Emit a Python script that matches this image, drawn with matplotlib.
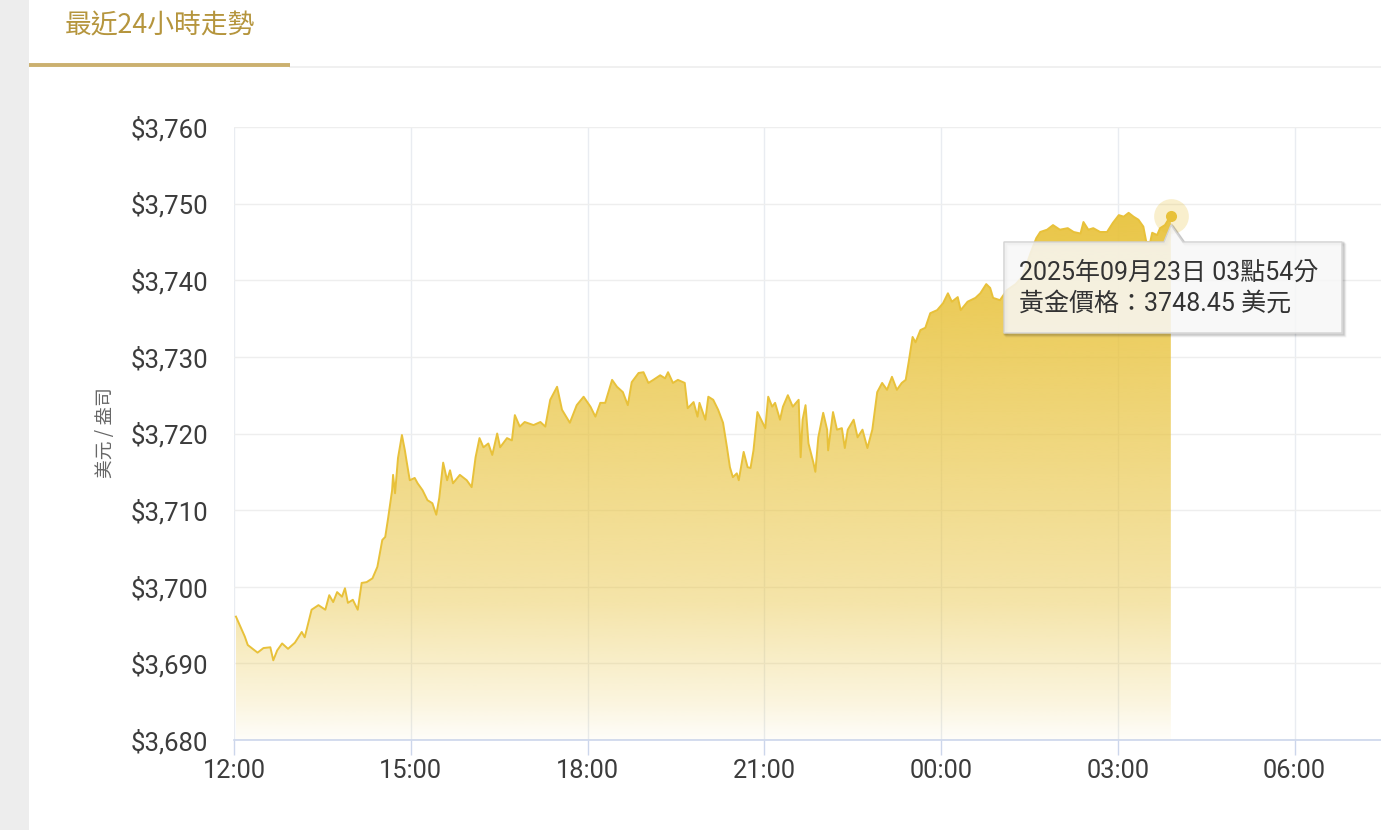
import numpy as np
import matplotlib
matplotlib.use('Agg')
import matplotlib.pyplot as plt
from matplotlib.patches import Polygon, Rectangle
from matplotlib.lines import Line2D

plt.rcParams['font.family'] = ['Roboto', 'Noto Sans CJK TC', 'DejaVu Sans']

W, H = 1381, 830

# gold price, minutes after 12:00 (2025-09-22) -> USD / oz
minutes = [
    2, 11, 14, 24, 30, 37, 40, 44, 49, 55, 62, 69, 72, 79, 86, 93, 97, 101,
    105, 110, 113, 116, 121, 126, 130, 135, 141, 146, 151, 154, 157, 161, 162,
    164, 167, 171, 174, 176, 179, 184, 187, 192, 197, 202, 206, 209, 213, 217,
    220, 223, 230, 237, 242, 246, 250, 254, 259, 263, 268, 271, 278, 283, 286,
    291, 296, 305, 312, 317, 322, 329, 334, 342, 349, 356, 363, 368, 373, 378,
    385, 390, 396, 401, 405, 412, 417, 422, 427, 434, 439, 442, 447, 452, 459,
    462, 468, 472, 474, 480, 483, 488, 493, 498, 502, 505, 508, 512, 514, 519,
    523, 526, 529, 533, 538, 541, 544, 548, 551, 556, 559, 564, 569, 575, 577,
    579, 582, 585, 590, 592, 595, 600, 604, 605, 610, 614, 619, 622, 625, 631,
    635, 640, 645, 650, 655, 660, 665, 670, 675, 680, 684, 687, 691, 694, 699,
    704, 709, 716, 722, 727, 731, 737, 740, 747, 755, 760, 766, 770, 773, 780,
    787, 796, 803, 811, 817, 821, 828, 834, 841, 849, 855, 862, 865, 870, 875,
    882, 889, 895, 901, 906, 911, 916, 921, 926, 929, 933, 935, 940, 943, 948,
    954,
]
prices = [
    3696.1, 3693.5, 3692.4, 3691.4, 3692.0, 3692.1, 3690.4, 3691.7, 3692.6,
    3691.9, 3692.7, 3694.1, 3693.4, 3697.0, 3697.6, 3697.0, 3698.9, 3698.0,
    3699.3, 3698.7, 3699.8, 3697.9, 3698.3, 3697.0, 3700.5, 3700.6, 3701.1,
    3702.6, 3706.1, 3706.5, 3709.0, 3712.6, 3714.6, 3712.2, 3716.8, 3719.8,
    3717.8, 3716.2, 3713.9, 3714.2, 3713.5, 3712.6, 3711.3, 3710.9, 3709.4,
    3711.6, 3716.2, 3713.9, 3715.2, 3713.5, 3714.6, 3713.9, 3713.0, 3716.9,
    3719.4, 3718.2, 3718.7, 3717.2, 3720.0, 3718.2, 3719.4, 3719.1, 3722.4,
    3720.9, 3721.5, 3721.1, 3721.5, 3720.9, 3724.4, 3726.1, 3723.1, 3721.4,
    3723.7, 3724.8, 3723.5, 3722.2, 3724.0, 3724.0, 3727.0, 3726.1, 3725.4,
    3723.7, 3726.7, 3727.9, 3728.0, 3726.6, 3727.0, 3727.6, 3727.2, 3728.0,
    3726.6, 3727.0, 3726.6, 3723.3, 3724.1, 3722.2, 3724.0, 3721.8, 3724.8,
    3724.4, 3723.1, 3721.4, 3718.2, 3715.6, 3714.3, 3714.8, 3713.9, 3717.6,
    3715.6, 3715.5, 3717.8, 3722.8, 3721.5, 3720.7, 3724.8, 3723.5, 3724.0,
    3721.8, 3723.5, 3725.0, 3723.5, 3724.4, 3716.9, 3721.8, 3723.7, 3718.7,
    3716.2, 3715.0, 3719.5, 3722.7, 3720.5, 3717.8, 3722.8, 3720.5, 3720.7,
    3718.1, 3720.5, 3721.8, 3719.5, 3720.5, 3718.1, 3720.5, 3725.4, 3726.6,
    3725.7, 3727.4, 3725.7, 3726.6, 3727.0, 3729.3, 3732.6, 3731.9, 3733.5,
    3733.8, 3735.7, 3736.1, 3737.0, 3738.3, 3737.2, 3737.8, 3736.1, 3737.2,
    3737.7, 3738.3, 3739.5, 3739.0, 3737.7, 3737.4, 3738.7, 3739.5, 3740.5,
    3743.5, 3745.5, 3746.3, 3746.6, 3747.2, 3746.6, 3746.8, 3746.3, 3746.1,
    3747.6, 3746.6, 3746.8, 3746.3, 3746.3, 3747.5, 3748.5, 3748.3, 3748.8,
    3748.3, 3747.9, 3747.0, 3745.0, 3745.0, 3746.2, 3745.9, 3746.8, 3747.2,
    3748.45,
]

tick_minutes = [0, 180, 360, 540, 720, 900, 1080]
tick_labels = ['12:00', '15:00', '18:00', '21:00', '00:00', '03:00', '06:00']
price_ticks = list(range(3680, 3761, 10))

title = '最近24小時走勢'
y_title = '美元 / 盎司'
tip_line1 = '2025年09月23日 03點54分'
tip_line2 = '黃金價格：3748.45 美元'

gold = '#e8c13a'
gold_rgb = np.array([232, 194, 58]) / 255.0


def fx(x):
    return x / W


def fy(y):
    return 1 - y / H


fig = plt.figure(figsize=(W / 100, H / 100), dpi=100)
fig.patch.set_facecolor('white')

# grey page strip on the left and the tab header
fig.add_artist(Rectangle((0, 0), fx(29), 1, transform=fig.transFigure,
                         facecolor='#ededed', edgecolor='none'))
fig.add_artist(Line2D([fx(290), 1], [fy(67), fy(67)], transform=fig.transFigure,
                      color='#eeeeee', lw=1.2))
fig.add_artist(Line2D([fx(29), fx(290)], [fy(65.5), fy(65.5)], transform=fig.transFigure,
                      color='#cbb06f', lw=2.8, solid_capstyle='butt'))
fig.text(fx(65), fy(26), title, fontsize=19.3, color='#b5953d', va='center', ha='left',
         family=['Noto Sans CJK TC', 'Roboto'])

ax = fig.add_axes([fx(234), fy(740), 1 - fx(234), (740 - 127) / H])
ax.set_facecolor('none')

# gradient area under the line
levels = np.linspace(3680, 3760, 400)
alpha = np.interp(levels, [3680, 3685, 3698, 3737, 3749], [0.03, 0.17, 0.44, 0.84, 0.93])
rgba = np.zeros((len(levels), 1, 4))
rgba[:, 0, :3] = gold_rgb
rgba[:, 0, 3] = alpha
im = ax.imshow(rgba, extent=[minutes[0], minutes[-1], 3680, 3760], origin='lower',
               aspect='auto', zorder=1, interpolation='bilinear')
area = ax.fill_between(minutes, prices, 3680, facecolor='none', edgecolor='none')
im.set_clip_path(area.get_paths()[0], transform=ax.transData)

ax.plot(minutes, prices, color=gold, lw=1.4, zorder=3, solid_joinstyle='round')

# hovered point
ax.plot(minutes[-1], prices[-1], 'o', ms=25, color=gold, alpha=0.25, mec='none', zorder=4)
ax.plot(minutes[-1], prices[-1], 'o', ms=8, color=gold, mec='none', zorder=5)

ax.set_xlim(0, 1168)
ax.set_ylim(3680, 3760)
ax.set_xticks(tick_minutes)
ax.set_xticklabels(tick_labels)
ax.set_yticks(price_ticks)
ax.set_yticklabels(['${:,}'.format(v) for v in price_ticks])

for s in ['top', 'right', 'left']:
    ax.spines[s].set_visible(False)
ax.spines['bottom'].set_color('#ccd6eb')
ax.spines['bottom'].set_linewidth(1.2)
ax.spines['bottom'].set_zorder(6)

ax.tick_params(axis='x', length=11, width=1, color='#ccd6eb', pad=2.5,
               labelsize=18.3, labelcolor='#3c3c3c')
ax.tick_params(axis='y', length=0, pad=18.5, labelsize=18.5, labelcolor='#3c3c3c')
ax.xaxis.grid(True, color='#e9ecf1', lw=1)
ax.yaxis.grid(True, color='#eeeeee', lw=1)
ax.set_axisbelow(True)

fig.text(fx(105), fy(433), y_title, rotation=90, fontsize=13.5, color='#666666',
         ha='center', va='center', family=['Noto Sans CJK TC', 'Roboto'])

# tooltip box with pointer
box = [(1004, 242), (1164, 242), (1171, 225), (1183, 242), (1342, 242),
       (1342, 333), (1004, 333)]
for off, a in [(3, 0.05), (2, 0.08), (1, 0.12)]:
    fig.add_artist(Polygon([(fx(x + off), fy(y + off)) for x, y in box], closed=True,
                           transform=fig.transFigure, facecolor='none',
                           edgecolor=(0, 0, 0, a), lw=2))
fig.add_artist(Polygon([(fx(x), fy(y)) for x, y in box], closed=True,
                       transform=fig.transFigure, facecolor=(0.97, 0.97, 0.97, 0.85),
                       edgecolor='#d4d4d4', lw=1))
fig.text(fx(1019), fy(273), tip_line1, fontsize=18, color='#333333', va='center', ha='left')
fig.text(fx(1019), fy(304), tip_line2, fontsize=18, color='#333333', va='center', ha='left')

fig.savefig('out.png', dpi=100, facecolor='white')
